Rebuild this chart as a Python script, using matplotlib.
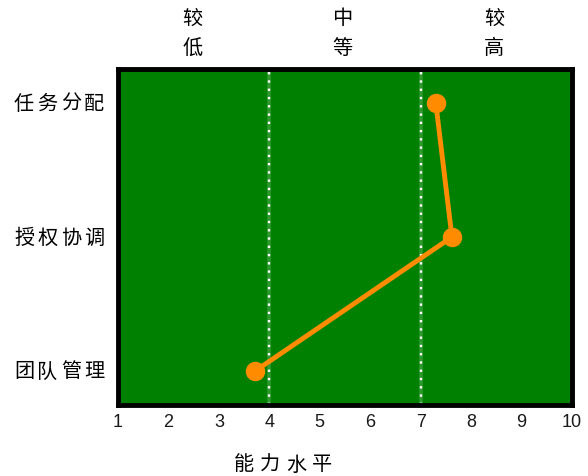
import matplotlib
matplotlib.use("Agg")
import matplotlib.pyplot as plt

plt.rcParams['font.family'] = ['Noto Sans CJK SC', 'DejaVu Sans']

categories = ["任务分配", "授权协调", "团队管理"]
scores = [7.3, 7.62, 3.72]
x_ticks = [1, 2, 3, 4, 5, 6, 7, 8, 9, 10]
band_edges = [4, 7]
band_labels = ["较低", "中等", "较高"]
band_centers = [2.48, 5.44, 8.46]
x_label = "能力水平"

W, H = 588, 477
fig = plt.figure(figsize=(W / 100, H / 100), dpi=100)
ax = fig.add_axes([118 / W, 1 - 406 / H, (572 - 118) / W, (406 - 70) / H])

ax.set_facecolor("#008000")
ypos = list(range(len(categories)))

for xe in band_edges:
    ax.axvline(xe, color="#b8e6b8", lw=2.6, alpha=0.25, zorder=1)
    ax.axvline(xe, color="white", lw=1.7, linestyle=(0, (1, 2.5)), zorder=2)

ax.plot(scores, ypos, color="#ff8c00", lw=3.5, marker="o", markersize=13,
        solid_capstyle="round", zorder=3)

ax.set_xlim(1, 10)
ax.set_ylim(len(categories) - 1 + 0.254, -0.254)
ax.set_xticks(x_ticks)
ax.set_xticklabels([str(t) for t in x_ticks], fontsize=13, family="Liberation Sans",
                   color="#1a1a1a")
ax.set_yticks(ypos)
ax.set_yticklabels([])
ax.tick_params(axis="both", length=0)
ax.tick_params(axis="x", pad=5.5)

for s in ax.spines.values():
    s.set_color("black")
    s.set_linewidth(3.5)


def spaced_text(x0, y, text, step, size=14.5):
    """Draw text one character at a time, x0/y are pixel centres."""
    for i, ch in enumerate(text):
        fig.text((x0 + i * step) / W, 1 - y / H, ch, ha="center", va="center",
                 fontsize=size, color="#000000")


# category labels on the left
data_to_px = ax.transData
for cat, yv in zip(categories, ypos):
    _, ypix = data_to_px.transform((1, yv))
    spaced_text(24, H - ypix, cat, 23.4)

# band labels above the plot, written vertically
for cx, lab in zip(band_centers, band_labels):
    xpix, _ = data_to_px.transform((cx, 0))
    for i, ch in enumerate(lab):
        fig.text(xpix / W, 1 - (19 + i * 30) / H, ch, ha="center", va="center",
                 fontsize=14.5, color="#000000")

spaced_text(244, 465, x_label, 26)

fig.savefig("out.png", dpi=100, facecolor="white")
